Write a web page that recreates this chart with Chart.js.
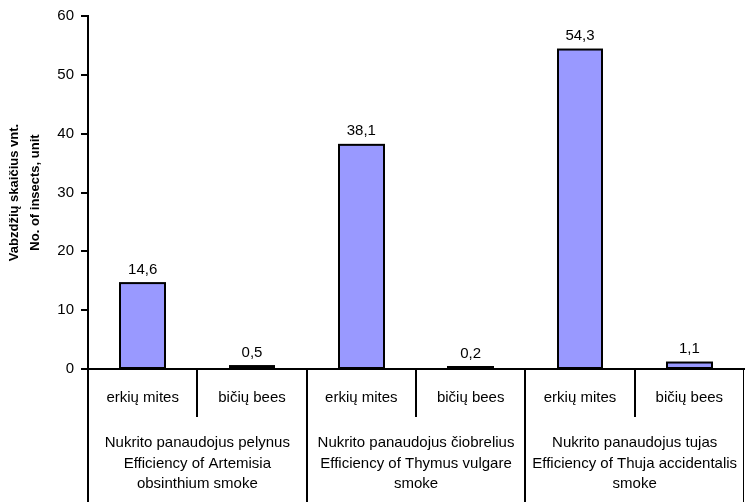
<!DOCTYPE html>
<html>
<head>
<meta charset="utf-8">
<script src="https://cdn.jsdelivr.net/npm/chart.js@4"></script>
<style>
  html, body { margin: 0; padding: 0; background: #fff; }
  #wrap { width: 747px; height: 502px; }
</style>
</head>
<body>
<div id="wrap"><canvas id="c" width="747" height="502"></canvas></div>
<script>
// Insects counted per category
const subCategories = ['erkių mites', 'bičių bees', 'erkių mites', 'bičių bees', 'erkių mites', 'bičių bees'];
const groupLabels = [
  ['Nukrito panaudojus pelynus', 'Efficiency of Artemisia', 'obsinthium smoke'],
  ['Nukrito panaudojus čiobrelius', 'Efficiency of Thymus vulgare', 'smoke'],
  ['Nukrito panaudojus tujas', 'Efficiency of Thuja accidentalis', 'smoke']
];
const insectCounts = [14.6, 0.5, 38.1, 0.2, 54.3, 1.1];
const yTicks = [0, 10, 20, 30, 40, 50, 60];
const yTitle = ['Vabzdžių skaičius vnt.', 'No. of insects, unit'];

const FONT = "'Liberation Sans', Arial, sans-serif";

// Bar outlines stroked on the bar edges, so even very short bars stay visible
const barOutlines = {
  id: 'barOutlines',
  afterDatasetsDraw(chart) {
    const { ctx } = chart;
    const meta = chart.getDatasetMeta(0);
    ctx.save();
    ctx.strokeStyle = '#000';
    ctx.lineWidth = 2;
    ctx.lineJoin = 'miter';
    meta.data.forEach(bar => {
      const p = bar.getProps(['x', 'y', 'base', 'width'], true);
      const l = Math.round(p.x - p.width / 2);
      const r = Math.round(p.x + p.width / 2);
      const t = Math.min(p.y, p.base - 1);
      ctx.strokeRect(l, t, r - l, p.base - t);
    });
    ctx.restore();
  }
};

// Value labels above each bar, with a decimal comma
const valueLabels = {
  id: 'valueLabels',
  afterDatasetsDraw(chart) {
    const { ctx } = chart;
    const meta = chart.getDatasetMeta(0);
    ctx.save();
    ctx.font = '15px ' + FONT;
    ctx.fillStyle = '#000';
    ctx.textAlign = 'center';
    ctx.textBaseline = 'bottom';
    meta.data.forEach((bar, i) => {
      const txt = insectCounts[i].toFixed(1).replace('.', ',');
      ctx.fillText(txt, bar.x, bar.y - 6);
    });
    ctx.restore();
  }
};

// Two-level category axis: sub-categories and their groups, separated by lines
const groupedAxis = {
  id: 'groupedAxis',
  afterDraw(chart) {
    const { ctx, chartArea, scales } = chart;
    const x = scales.x;
    const n = subCategories.length;
    const half = (x.getPixelForValue(1) - x.getPixelForValue(0)) / 2;
    const edge = i => (i < n ? x.getPixelForValue(i) - half : x.getPixelForValue(n - 1) + half);
    const bottom = chartArea.bottom;
    const h = chart.height;

    ctx.save();
    ctx.strokeStyle = '#000';
    ctx.lineCap = 'butt';

    // base line
    ctx.lineWidth = 2;
    ctx.beginPath();
    ctx.moveTo(chartArea.left - 5, bottom);
    ctx.lineTo(edge(n) + 1, bottom);
    ctx.stroke();

    // separators
    for (let i = 0; i <= n; i++) {
      const px = Math.round(edge(i));
      ctx.lineWidth = i === n ? 1 : 2;
      ctx.beginPath();
      ctx.moveTo(i === n ? px - 0.5 : px, bottom);
      ctx.lineTo(i === n ? px - 0.5 : px, i % 2 === 0 ? h : bottom + 48);
      ctx.stroke();
    }

    ctx.fillStyle = '#000';
    ctx.font = '15px ' + FONT;
    ctx.textAlign = 'center';
    ctx.textBaseline = 'middle';
    subCategories.forEach((lab, i) => {
      ctx.fillText(lab, x.getPixelForValue(i), bottom + 29);
    });
    groupLabels.forEach((lines, g) => {
      const cx = (edge(2 * g) + edge(2 * g + 2)) / 2;
      lines.forEach((ln, k) => {
        ctx.fillText(ln, cx, bottom + 74 + k * 20.5);
      });
    });
    ctx.restore();
  }
};

new Chart(document.getElementById('c'), {
  type: 'bar',
  data: {
    labels: subCategories,
    datasets: [{
      data: insectCounts,
      backgroundColor: '#9999FF',
      borderWidth: 0,
      categoryPercentage: 1,
      barPercentage: 0.41
    }]
  },
  options: {
    responsive: false,
    animation: false,
    layout: { padding: { top: 15, right: 3, bottom: 133, left: 0 } },
    plugins: {
      legend: { display: false },
      tooltip: { enabled: false }
    },
    scales: {
      x: { display: false },
      y: {
        min: 0,
        max: 60,
        afterBuildTicks(scale) { scale.ticks = yTicks.map(v => ({ value: v })); },
        afterFit(scale) { scale.width = 88; },
        ticks: {
          color: '#000',
          padding: 7,
          font: { family: FONT, size: 15 }
        },
        grid: {
          drawOnChartArea: false,
          drawTicks: true,
          tickLength: 7,
          color: '#000',
          lineWidth: 2
        },
        border: { display: true, color: '#000', width: 2 },
        title: {
          display: true,
          text: yTitle,
          color: '#000',
          padding: { top: 4, bottom: 0 },
          font: { family: FONT, size: 13, weight: 'bold', lineHeight: 1.6 }
        }
      }
    }
  },
  plugins: [barOutlines, valueLabels, groupedAxis]
});
</script>
</body>
</html>
